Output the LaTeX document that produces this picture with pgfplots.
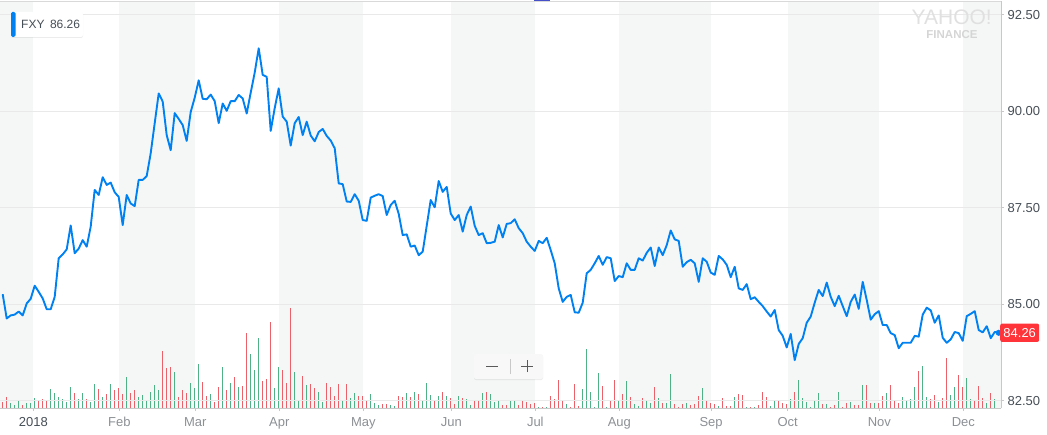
\documentclass[border=0pt]{standalone}
\usepackage{fontspec}
\setmainfont{Liberation Sans}
\usepackage{pgfplots}
\pgfplotsset{compat=1.18}
\usetikzlibrary{shadows}
\definecolor{yblue}{RGB}{0,129,242}
\definecolor{band}{RGB}{245,247,247}
\definecolor{gridc}{RGB}{233,233,233}
\definecolor{axisc}{RGB}{200,200,200}
\definecolor{labdark}{RGB}{70,78,86}
\definecolor{labgray}{RGB}{140,144,148}
\definecolor{volred}{RGB}{236,96,106}
\definecolor{volgreen}{RGB}{78,178,134}
\definecolor{badgered}{RGB}{255,51,58}
\definecolor{wm}{RGB}{224,224,224}
\definecolor{indic}{RGB}{70,80,200}
\definecolor{zoombg}{RGB}{248,248,248}
\definecolor{zoomdiv}{RGB}{200,200,200}
\definecolor{zoomsym}{RGB}{90,90,90}
\begin{document}
\begin{tikzpicture}
% ---------- volume axis (background bands + bars) ----------
\begin{axis}[
  at={(0,0)}, anchor=south west,
  width=1001pt, height=407.3pt, scale only axis,
  xmin=-0.675, xmax=249.575, ymin=0, ymax=2443.8,
  axis lines=none, xtick=\empty, ytick=\empty,
]
\fill[band] (axis cs:-0.675,0) rectangle (axis cs:7.65,2443.8);
\fill[band] (axis cs:29.15,0) rectangle (axis cs:48.15,2443.8);
\fill[band] (axis cs:69.15,0) rectangle (axis cs:90.15,2443.8);
\fill[band] (axis cs:112.15,0) rectangle (axis cs:133.15,2443.8);
\fill[band] (axis cs:154.15,0) rectangle (axis cs:177.1,2443.8);
\fill[band] (axis cs:196.25,0) rectangle (axis cs:219.15,2443.8);
\fill[band] (axis cs:240.15,0) rectangle (axis cs:249.575,2443.8);
\addplot[ycomb, draw=volred, line width=1pt, mark=none] coordinates {
(0,40)(1,70)(5,20)(9,50)(10,56)(11,46)(18,94)(21,56)(24,116)(26,86)(28,110)(29,124)(30,86)(32,94)(33,110)
(40,344)(41,244)(42,250)(44,70)(45,110)(46,94)(50,160)(51,76)(53,36)(54,130)(56,110)(58,190)(60,136)(61,454)
(65,166)(66,176)(67,520)(70,230)(71,154)(72,604)(75,196)(77,148)(78,124)(81,154)(82,130)(83,76)(84,148)(86,144)
(89,76)(90,76)(91,44)(95,26)(96,26)(99,74)(100,70)(102,70)(104,86)(108,50)(110,100)(112,60)(113,26)(115,60)
(118,44)(119,44)(121,100)(125,20)(126,20)(129,20)(130,50)(131,40)(132,26)(133,34)(135,10)(137,74)(138,56)
(139,170)(140,44)(142,6)(143,148)(144,14)(150,136)(152,44)(153,170)(155,86)(157,70)(160,64)(163,128)(165,34)
(168,26)(169,10)(170,26)(172,20)(173,26)(174,74)(176,44)(177,34)(178,26)(180,60)(181,16)(182,14)(184,86)
(185,80)(187,10)(189,20)(190,100)(191,66)(194,44)(195,34)(196,26)(198,98)(205,26)(207,10)(208,20)(210,10)
(211,34)(213,20)(214,20)(216,140)(217,34)(219,30)(220,76)(222,140)(223,44)(224,34)(229,226)(232,56)(233,80)
(235,60)(236,304)(239,200)(240,130)(243,50)(244,134)(245,60)(247,94)
};
\addplot[ycomb, draw=volgreen, line width=1pt, mark=none] coordinates {
(2,34)(3,20)(4,46)(6,34)(7,34)(8,64)(12,116)(13,94)(14,70)(15,56)(16,40)(17,128)(19,56)(20,94)(22,40)
(23,148)(25,70)(27,148)(31,190)(34,70)(35,80)(36,50)(37,100)(38,140)(39,110)(43,218)(47,154)(48,124)
(49,268)(52,86)(55,250)(57,154)(59,130)(62,326)(63,230)(64,424)(68,124)(69,250)(73,218)(74,50)(76,140)
(79,100)(80,40)(85,50)(87,60)(88,94)(92,86)(93,34)(94,20)(97,20)(98,14)(101,94)(103,100)(105,50)(106,154)
(107,80)(109,76)(111,74)(114,74)(116,54)(117,20)(120,94)(122,86)(123,40)(124,44)(127,44)(128,50)(134,6)
(136,10)(141,26)(145,116)(146,356)(147,100)(148,6)(149,214)(151,6)(154,44)(156,164)(158,26)(159,14)(161,44)
(162,34)(164,64)(166,34)(167,206)(171,30)(175,120)(179,14)(183,66)(186,10)(188,10)(192,14)(193,44)(197,54)
(199,170)(200,60)(201,36)(202,10)(203,44)(204,94)(206,26)(209,98)(212,40)(215,140)(218,30)(221,94)(225,66)
(226,50)(227,56)(228,130)(230,256)(231,66)(234,40)(237,80)(238,130)(241,180)(242,56)(246,34)(248,56)
};
\end{axis}
% ---------- price axis ----------
\begin{axis}[
  at={(0,0)}, anchor=south west,
  width=1001pt, height=407.3pt, scale only axis,
  xmin=-0.675, xmax=249.575, ymin=82.303, ymax=92.855,
  axis x line*=bottom, axis y line*=right,
  axis line style={draw=axisc, line width=0.8pt},
  tick align=outside, major tick length=3pt,
  tick style={draw=axisc, line width=0.8pt},
  xtick={7.65,29.15,48.15,69.15,90.15,112.15,133.15,154.15,177.1,196.25,219.15,240.15},
  xticklabels={\textcolor{labdark}{2018},Feb,Mar,Apr,May,Jun,Jul,Aug,Sep,Oct,Nov,Dec},
  ytick={82.5,85,87.5,90,92.5},
  yticklabels={82.50,85.00,87.50,90.00,92.50},
  /pgf/number format/assume math mode=true,
  xticklabel style={font=\fontsize{13}{13}\selectfont, text=labgray, yshift=-2.5pt},
  yticklabel style={font=\fontsize{13}{13}\selectfont, text=labdark},
  ymajorgrids, grid style={draw=gridc, line width=0.8pt},
  clip=true,
]
\addplot[yblue, line width=1.9pt, line join=round, mark=none] coordinates {
(0,85.26)(1,84.63)(2,84.71)(3,84.73)(4,84.81)(5,84.71)(6,85.02)(7,85.14)(8,85.48)(9,85.32)
(10,85.15)(11,84.87)(12,84.87)(13,85.19)(14,86.19)(15,86.29)(16,86.42)(17,87.04)(18,86.32)(19,86.44)
(20,86.66)(21,86.49)(22,87.01)(23,87.96)(24,87.83)(25,88.29)(26,88.09)(27,88.15)(28,87.90)(29,87.78)
(30,87.05)(31,87.83)(32,87.61)(33,87.54)(34,88.22)(35,88.22)(36,88.32)(37,88.91)(38,89.69)(39,90.46)
(40,90.25)(41,89.38)(42,88.99)(43,89.95)(44,89.80)(45,89.64)(46,89.23)(47,89.98)(48,90.35)(49,90.80)
(50,90.32)(51,90.31)(52,90.43)(53,90.26)(54,89.69)(55,90.20)(56,90.01)(57,90.26)(58,90.26)(59,90.42)
(60,90.33)(61,89.94)(62,90.48)(63,91.00)(64,91.63)(65,90.94)(66,90.89)(67,89.49)(68,90.08)(69,90.59)
(70,89.86)(71,89.73)(72,89.11)(73,89.69)(74,89.85)(75,89.38)(76,89.73)(77,89.37)(78,89.22)(79,89.46)
(80,89.54)(81,89.36)(82,89.24)(83,89.04)(84,88.13)(85,88.11)(86,87.66)(87,87.65)(88,87.85)(89,87.68)
(90,87.18)(91,87.16)(92,87.76)(93,87.81)(94,87.85)(95,87.80)(96,87.31)(97,87.57)(98,87.68)(99,87.34)
(100,86.79)(101,86.81)(102,86.49)(103,86.52)(104,86.27)(105,86.36)(106,87.03)(107,87.70)(108,87.51)(109,88.19)
(110,87.91)(111,88.04)(112,87.35)(113,87.18)(114,87.31)(115,86.88)(116,87.31)(117,87.53)(118,87.03)(119,86.79)
(120,86.84)(121,86.58)(122,86.59)(123,86.62)(124,87.05)(125,86.73)(126,87.08)(127,87.10)(128,87.20)(129,86.97)
(130,86.84)(131,86.62)(132,86.49)(133,86.38)(134,86.64)(135,86.58)(136,86.72)(137,86.40)(138,86.06)(139,85.41)
(140,85.06)(141,85.19)(142,85.24)(143,84.79)(144,84.78)(145,85.04)(146,85.80)(147,85.89)(148,86.06)(149,86.25)
(150,86.02)(151,86.22)(152,86.19)(153,85.60)(154,85.73)(155,85.70)(156,86.06)(157,85.89)(158,85.89)(159,86.19)
(160,86.13)(161,86.33)(162,86.47)(163,85.99)(164,86.47)(165,86.27)(166,86.53)(167,86.91)(168,86.68)(169,86.64)
(170,85.97)(171,86.09)(172,86.15)(173,86.06)(174,85.58)(175,86.19)(176,86.10)(177,85.82)(178,85.76)(179,86.25)
(180,86.16)(181,86.02)(182,85.70)(183,85.97)(184,85.41)(185,85.37)(186,85.52)(187,85.13)(188,85.18)(189,85.06)
(190,84.95)(191,84.81)(192,84.68)(193,84.85)(194,84.33)(195,84.18)(196,83.88)(197,84.23)(198,83.55)(199,83.97)
(200,84.12)(201,84.52)(202,84.68)(203,85.04)(204,85.37)(205,85.21)(206,85.56)(207,85.19)(208,84.95)(209,85.22)
(210,84.95)(211,84.69)(212,85.06)(213,85.25)(214,84.88)(215,85.58)(216,85.11)(217,84.60)(218,84.74)(219,84.82)
(220,84.46)(221,84.46)(222,84.25)(223,84.20)(224,83.86)(225,84.00)(226,84.00)(227,84.00)(228,84.18)(229,84.16)
(230,84.73)(231,84.91)(232,84.84)(233,84.52)(234,84.71)(235,84.13)(236,84.00)(237,84.09)(238,84.28)(239,84.25)
(240,84.05)(241,84.69)(242,84.75)(243,84.82)(244,84.33)(245,84.27)(246,84.43)(247,84.12)(248,84.28)(249,84.26)
};
\addplot[only marks, mark=*, mark size=2.8pt, color=yblue] coordinates {(249,84.26)};
\coordinate (endpt) at (axis cs:249.575,84.26);
\end{axis}
% top border
\draw[draw=axisc!70, line width=0.8pt] (0,407.3pt) -- (1001pt,407.3pt);
% small indicator at top
\fill[indic] (534pt,406.8pt) rectangle (550pt,408.3pt);
% price badge
\node[fill=badgered, text=white, rounded corners=2pt, inner xsep=3.2pt, inner ysep=0pt,
      minimum height=18.4pt, anchor=west, font=\fontsize{13}{13}\selectfont]
  at ([xshift=-1pt]endpt) {84.26};
% legend box
\fill[white, drop shadow={opacity=0.15, shadow xshift=0pt, shadow yshift=-1pt}, rounded corners=2pt]
  (11pt,371.3pt) rectangle (83pt,396.3pt);
\fill[yblue, rounded corners=1.5pt] (11pt,371.3pt) rectangle (15.5pt,396.3pt);
\node[anchor=base west, inner sep=0pt, text=labdark, font=\fontsize{12}{12}\selectfont]
  at (21pt,379.6pt) {FXY\hspace{5.5pt}86.26};
% watermark
\node[text=wm, font=\fontsize{21}{21}\selectfont, inner sep=0pt] at (951.7pt,391pt) {YAHOO!};
\node[text=wm!95!black, font=\bfseries\fontsize{11.5}{11.5}\selectfont, inner sep=0pt] at (952pt,373.3pt) {FINANCE};
% zoom control
\fill[zoombg, drop shadow={opacity=0.15, shadow xshift=0pt, shadow yshift=-1pt}, rounded corners=2pt]
  (474pt,29.3pt) rectangle (543pt,54.3pt);
\draw[zoomdiv, line width=0.8pt] (510.3pt,34.3pt) -- (510.3pt,49.3pt);
\draw[zoomsym, line width=1pt] (486pt,42.3pt) -- (498pt,42.3pt);
\draw[zoomsym, line width=1pt] (521pt,42.3pt) -- (533pt,42.3pt) (527pt,36.3pt) -- (527pt,48.3pt);
% bounding box
\pgfresetboundingbox
\path (0,-25.7pt) rectangle (1047pt,408.3pt);
\end{tikzpicture}
\end{document}
